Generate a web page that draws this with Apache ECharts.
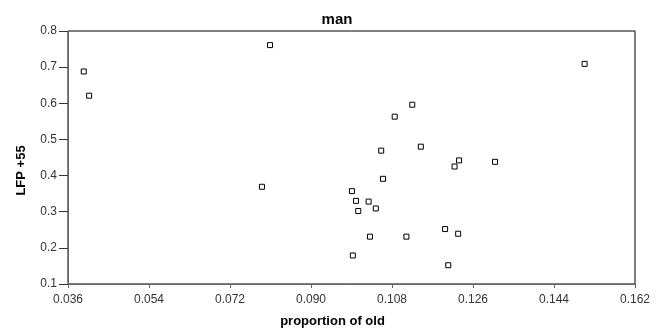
<!DOCTYPE html>
<html>
<head>
<meta charset="utf-8">
<script src="https://cdn.jsdelivr.net/npm/echarts@6/dist/echarts.min.js"></script>
<style>
  html, body { margin: 0; padding: 0; background: #fff; }
  #chart { width: 666px; height: 334px; }
</style>
</head>
<body>
<div id="chart"></div>
<script>
// proportion of old (x) and LFP +55 (y)
var oldShare = [0.0395, 0.0407, 0.0809, 0.0791, 0.1508, 0.1125, 0.1086, 0.1144,
                0.1056, 0.1229, 0.1219, 0.1309, 0.1060, 0.0991, 0.1000, 0.1028,
                0.1005, 0.1044, 0.1198, 0.1227, 0.1031, 0.1112, 0.0993, 0.1205];
var lfp55 = [0.688, 0.621, 0.761, 0.369, 0.709, 0.596, 0.563, 0.480,
             0.469, 0.442, 0.425, 0.438, 0.391, 0.357, 0.330, 0.328,
             0.302, 0.309, 0.252, 0.239, 0.231, 0.231, 0.179, 0.152];
var xTicks = [0.036, 0.054, 0.072, 0.090, 0.108, 0.126, 0.144, 0.162];
var yTicks = [0.1, 0.2, 0.3, 0.4, 0.5, 0.6, 0.7, 0.8];

var points = oldShare.map(function (x, i) { return [x, lfp55[i]]; });

var chart = echarts.init(document.getElementById('chart'));
var font = 'Liberation Sans, Arial, sans-serif';

chart.setOption({
  animation: false,
  title: {
    text: 'man',
    left: 332,
    textAlign: 'center',
    top: 7,
    textStyle: { fontFamily: font, fontSize: 15, fontWeight: 'bold', color: '#000' }
  },
  grid: {
    left: 68, right: 31, top: 31, bottom: 50,
    show: true, borderColor: '#000', borderWidth: 1
  },
  xAxis: {
    type: 'value',
    min: xTicks[0],
    max: xTicks[xTicks.length - 1],
    interval: xTicks[1] - xTicks[0],
    name: 'proportion of old',
    nameLocation: 'middle',
    nameGap: 31,
    nameTextStyle: { fontFamily: font, fontSize: 13, fontWeight: 'bold', color: '#000', padding: [0, 38, 0, 0] },
    splitLine: { show: false },
    axisLine: { onZero: false, lineStyle: { color: '#666', width: 1 } },
    axisTick: { length: 4, lineStyle: { color: '#666' } },
    axisLabel: {
      margin: 10,
      fontFamily: font, fontSize: 12, color: '#333',
      formatter: function (v) { return v.toFixed(3); }
    }
  },
  yAxis: {
    type: 'value',
    min: yTicks[0],
    max: yTicks[yTicks.length - 1],
    interval: 0.1,
    name: 'LFP +55',
    nameLocation: 'middle',
    nameGap: 40,
    nameTextStyle: { fontFamily: font, fontSize: 13, fontWeight: 'bold', color: '#000', padding: [0, 26, 0, 0] },
    splitLine: { show: false },
    axisLine: { onZero: false, lineStyle: { color: '#666', width: 1 } },
    axisTick: { length: 9, lineStyle: { color: '#333' } },
    axisLabel: {
      margin: 11,
      fontFamily: font, fontSize: 12, color: '#333',
      formatter: function (v) { return v.toFixed(1); }
    }
  },
  series: [{
    type: 'scatter',
    data: points,
    symbol: 'rect',
    symbolSize: 5,
    itemStyle: { color: '#fff', borderColor: '#000', borderWidth: 1, opacity: 1 }
  }]
});
</script>
</body>
</html>
